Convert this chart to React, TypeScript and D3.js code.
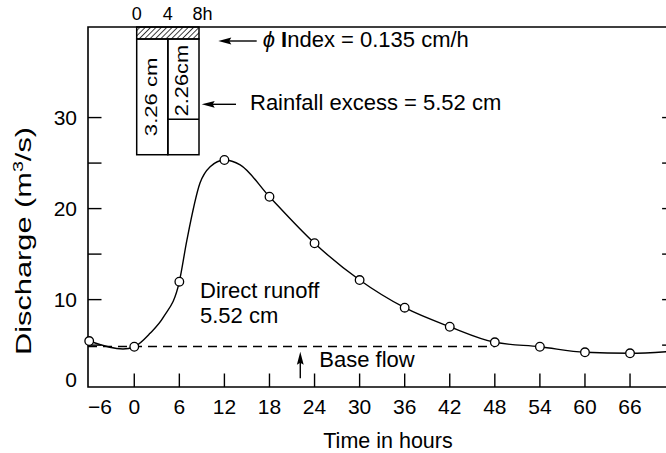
import React from 'react';
import * as d3 from 'd3';

// ---- Data ----
const hours = [-6, 0, 6, 12, 18, 24, 30, 36, 42, 48, 54, 60, 66];
const discharge = [5.45, 4.82, 11.97, 25.34, 21.3, 16.19, 12.15, 9.11, 7.02, 5.31, 4.82, 4.21, 4.1];
// extra knots of the hand-drawn smooth curve (no markers)
const curveHours = [-1.5, 2.1, 3.9, 7, 8.75, 10.1, 14.1, 72];
const curveDischarge = [4.57, 6.3, 8.1, 16.5, 22.8, 24.6, 24.8, 4.35];
const baseFlow = 4.85;
const baseFlowEndHour = 48;

const xTicks = [-6, 0, 6, 12, 18, 24, 30, 36, 42, 48, 54, 60, 66];
const yTickLabels = [0, 10, 20, 30];
const yTickMarks = [5, 10, 15, 20, 25, 30];

const rainHours = [0, 4, 8];
const rainHourLabels = ['0', '4', '8h'];
const rainExcess = [3.26, 2.26];
const rainExcessLabels = ['3.26 cm', '2.26cm'];

const W = 666;
const H = 453;
const FONT = '"Liberation Sans", Arial, Helvetica, sans-serif';

const xDomain: [number, number] = [-6.16, 72];
const yDomain: [number, number] = [0.4, 39.95];

export default function App() {
  const x = d3.scaleLinear().domain(xDomain).range([88, 675.1]);
  const y = d3.scaleLinear().domain(yDomain).range([387, 27]);

  // hyetograph scales
  const hx = d3.scaleLinear().domain([0, 8]).range([136.7, 199]);
  const hy = d3.scaleLinear().domain([0, 1]).range([39, 39 + 35.5]);

  const left = x(xDomain[0]);
  const right = x(xDomain[1]);
  const top = y(yDomain[1]);
  const bottom = y(yDomain[0]);

  const knots = hours
    .map((h, i) => [h, discharge[i]] as [number, number])
    .concat(curveHours.map((h, i) => [h, curveDischarge[i]] as [number, number]))
    .sort((a, b) => a[0] - b[0]);

  const line = d3
    .line<[number, number]>()
    .x((d) => x(d[0]))
    .y((d) => y(d[1]))
    .curve(d3.curveMonotoneX);

  const arrowHead = (tx: number, ty: number, dir: 'left' | 'up') => {
    const L = 13;
    const hw = 3.4;
    if (dir === 'left') {
      return `M${tx},${ty} L${tx + L},${ty - hw} L${tx + L - 2},${ty} L${tx + L},${ty + hw} Z`;
    }
    return `M${tx},${ty} L${tx - hw},${ty + L} L${tx},${ty + L - 2} L${tx + hw},${ty + L} Z`;
  };

  // annotation anchors
  const phiTipX = hx(8) + 19.3;
  const phiY = 41;
  const rainTipX = hx(8) + 2.7;
  const rainY = 104.3;
  const baseArrowX = x(22.1);
  const baseTipY = y(baseFlow) + 5.2;

  const col1Bottom = hy(rainExcess[0]);
  const col2Bottom = hy(rainExcess[1]);

  return (
    <svg
      width={W}
      height={H}
      viewBox={`0 0 ${W} ${H}`}
      style={{ position: 'absolute', left: 0, top: 0, background: '#fff' }}
      fontFamily={FONT}
    >
      <defs>
        <pattern
          id="hatch"
          patternUnits="userSpaceOnUse"
          width={3.8}
          height={3.8}
          patternTransform="rotate(45)"
        >
          <line x1={0} y1={0} x2={0} y2={3.8} stroke="#000" strokeWidth={1.5} />
        </pattern>
      </defs>

      {/* frame */}
      <path
        d={`M${right},${top} L${left},${top} L${left},${bottom} L${right},${bottom}`}
        fill="none"
        stroke="#000"
        strokeWidth={1.6}
      />
      <line x1={right} y1={top} x2={right} y2={bottom} stroke="#000" strokeWidth={1.6} />

      {/* y ticks left and right */}
      {yTickMarks.map((v) => (
        <g key={'yt' + v}>
          <line x1={left} x2={left + 13.5} y1={y(v)} y2={y(v)} stroke="#000" strokeWidth={1.4} />
          <line x1={right - 13} x2={right} y1={y(v)} y2={y(v)} stroke="#000" strokeWidth={1.4} />
        </g>
      ))}
      {yTickLabels.map((v) => (
        <text
          key={'yl' + v}
          x={77}
          y={v === 0 ? bottom : y(v)}
          dy={v === 0 ? 0 : '0.36em'}
          textAnchor="end"
          fontSize={21}
        >
          {v}
        </text>
      ))}

      {/* x ticks */}
      {xTicks
        .filter((t) => t !== -6)
        .map((t) => (
          <line key={'xt' + t} x1={x(t)} x2={x(t)} y1={bottom} y2={bottom - 13.5} stroke="#000" strokeWidth={1.4} />
        ))}
      {xTicks.map((t) => (
        <text
          key={'xl' + t}
          x={t === -6 ? left : x(t)}
          y={413.5}
          textAnchor={t === -6 ? 'start' : 'middle'}
          fontSize={21}
        >
          {t < 0 ? '\u2212' + Math.abs(t) : String(t)}
        </text>
      ))}

      {/* axis titles */}
      <text x={388} y={448} textAnchor="middle" fontSize={21.5}>
        Time in hours
      </text>
      <text
        transform="translate(30.7,241) rotate(-90) scale(1.4,1)"
        textAnchor="middle"
        fontSize={22}
      >
        Discharge (m<tspan baselineShift="super" fontSize={14}>3</tspan>/s)
      </text>

      {/* base flow dashed line */}
      <line
        x1={left}
        x2={x(baseFlowEndHour)}
        y1={y(baseFlow)}
        y2={y(baseFlow)}
        stroke="#000"
        strokeWidth={1.3}
        strokeDasharray="9,6"
      />

      {/* hydrograph curve */}
      <path d={line(knots) || ''} fill="none" stroke="#000" strokeWidth={1.4} />
      {hours.map((h, i) => (
        <circle
          key={'pt' + h}
          cx={x(h)}
          cy={y(discharge[i])}
          r={4.3}
          fill="#fff"
          stroke="#000"
          strokeWidth={1.3}
        />
      ))}

      {/* hyetograph */}
      <rect
        x={hx(0)}
        y={top}
        width={hx(8) - hx(0)}
        height={hy(0) - top}
        fill="url(#hatch)"
        stroke="#000"
        strokeWidth={1.5}
      />
      <rect
        x={hx(0)}
        y={hy(0)}
        width={hx(4) - hx(0)}
        height={col1Bottom - hy(0)}
        fill="none"
        stroke="#000"
        strokeWidth={1.5}
      />
      <rect
        x={hx(4)}
        y={hy(0)}
        width={hx(8) - hx(4)}
        height={col1Bottom - hy(0)}
        fill="none"
        stroke="#000"
        strokeWidth={1.5}
      />
      <line x1={hx(4)} x2={hx(8)} y1={col2Bottom} y2={col2Bottom} stroke="#000" strokeWidth={1.5} />
      {rainHours.map((h, i) => (
        <text
          key={'rh' + h}
          x={i === 2 ? hx(h) - 6.5 : hx(h)}
          y={20}
          textAnchor={i === 2 ? 'start' : 'middle'}
          fontSize={18}
        >
          {rainHourLabels[i]}
        </text>
      ))}
      <text
        transform={`translate(${hx(2) + 5},${(hy(0) + col1Bottom) / 2}) rotate(-90) scale(1.3,1)`}
        textAnchor="middle"
        fontSize={17}
      >
        {rainExcessLabels[0]}
      </text>
      <text
        transform={`translate(${hx(6) + 5},${(hy(0) + col2Bottom) / 2 + 1.5}) rotate(-90) scale(1.21,1)`}
        textAnchor="middle"
        fontSize={18}
      >
        {rainExcessLabels[1]}
      </text>

      {/* phi index annotation */}
      <line x1={phiTipX + 8} x2={phiTipX + 38.4} y1={phiY} y2={phiY} stroke="#000" strokeWidth={1.4} />
      <path d={arrowHead(phiTipX, phiY, 'left')} fill="#000" />
      <text x={262.7} y={46.7} fontSize={22}>
        <tspan fontStyle="italic">{'\u03D5'}</tspan>
        <tspan> </tspan>
        <tspan fontWeight="bold">I</tspan>
        <tspan>ndex = 0.135 cm/h</tspan>
      </text>

      {/* rainfall excess annotation */}
      <line x1={rainTipX + 8} x2={rainTipX + 34.3} y1={rainY} y2={rainY} stroke="#000" strokeWidth={1.4} />
      <path d={arrowHead(rainTipX, rainY, 'left')} fill="#000" />
      <text x={250} y={110} fontSize={22}>
        Rainfall excess = 5.52 cm
      </text>

      {/* direct runoff */}
      <text x={200} y={298.3} fontSize={22}>
        Direct runoff
      </text>
      <text x={200} y={322.7} fontSize={22}>
        5.52 cm
      </text>

      {/* base flow annotation */}
      <line x1={baseArrowX} x2={baseArrowX} y1={baseTipY + 8} y2={baseTipY + 26.6} stroke="#000" strokeWidth={1.4} />
      <path d={arrowHead(baseArrowX, baseTipY, 'up')} fill="#000" />
      <text x={319.3} y={366.7} fontSize={22}>
        Base flow
      </text>
    </svg>
  );
}
